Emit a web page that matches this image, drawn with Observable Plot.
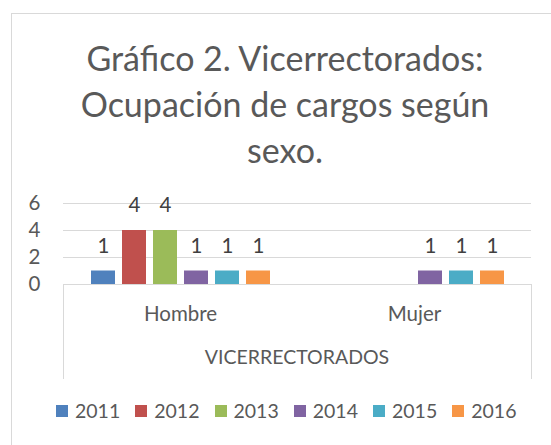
<!DOCTYPE html>
<html>
<head>
<meta charset="utf-8">
<script src="https://cdn.jsdelivr.net/npm/d3@7"></script>
<script src="https://cdn.jsdelivr.net/npm/@observablehq/plot@0.6"></script>
<style>
  html, body { margin: 0; padding: 0; background: #fff; }
  #wrap { position: relative; width: 551px; height: 445px; overflow: hidden; background: #fff; font-family: Lato, "Open Sans", sans-serif; }
  #frame { position: absolute; left: 11px; top: 13px; width: 700px; height: 600px; border: 1px solid #d9d9d9; }
  #title { position: absolute; left: 11px; width: 548px; top: 35px; text-align: center; font-size: 34px; line-height: 46px; color: #595959; }
  #chart { position: absolute; left: 0; top: 180px; }
  #table { position: absolute; left: 63px; top: 284px; width: 467px; height: 95px; border-left: 1px solid #d9d9d9; border-right: 1px solid #d9d9d9; }
  #group { position: absolute; left: 63px; width: 468px; top: 345px; text-align: center; font-size: 19.5px; color: #595959; }
  #legend { position: absolute; left: 56px; top: 399px; display: flex; gap: 15px; font-size: 19.5px; color: #595959; }
  .item { display: flex; align-items: center; gap: 7px; }
  .sw { width: 12px; height: 12px; display: inline-block; }
</style>
</head>
<body>
<div id="wrap">
  <div id="frame"></div>
  <div id="title">Gráfico 2. Vicerrectorados:<br>Ocupación de cargos según<br>sexo.</div>
  <div id="table"></div>
  <div id="chart"></div>
  <div id="group"></div>
  <div id="legend"></div>
</div>
<script>
const sexes = ["Hombre", "Mujer"];
const years = ["2011", "2012", "2013", "2014", "2015", "2016"];
const hombre = [1, 4, 4, 1, 1, 1];
const mujer = [null, null, null, 1, 1, 1];
const yTicks = [0, 2, 4, 6];
const groupLabel = "VICERRECTORADOS";
const colors = ["#4f81bd", "#c0504d", "#9bbb59", "#8064a2", "#4bacc6", "#f79646"];

const series = { Hombre: hombre, Mujer: mujer };
const data = sexes.flatMap(s => years.map((y, i) => ({ sex: s, year: y, value: series[s][i] })));
const labeled = data.filter(d => d.value != null);

const chart = Plot.plot({
  width: 551,
  height: 150,
  marginLeft: 63,
  marginRight: 20,
  marginTop: 23,
  marginBottom: 46,
  style: { fontFamily: "Lato, 'Open Sans', sans-serif", fontSize: "20.5px", color: "#595959", background: "transparent", overflow: "visible" },
  fx: { domain: sexes, padding: 0, label: null, axis: "bottom", tickSize: 0, tickPadding: 22 },
  x: { domain: years, paddingInner: 0.23, paddingOuter: 0.85, axis: null },
  y: { domain: [0, 6], ticks: yTicks, tickFormat: d => String(d), tickSize: 0, tickPadding: 23, label: null },
  color: { domain: years, range: colors },
  marks: [
    Plot.ruleY(yTicks.filter(t => t > 0), { stroke: "#d9d9d9", strokeWidth: 1 }),
    Plot.ruleY([0], { stroke: "#d9d9d9", strokeWidth: 1 }),
    Plot.barY(labeled, { fx: "sex", x: "year", y: "value", fill: "year" }),
    Plot.text(labeled, { fx: "sex", x: "year", y: "value", text: d => String(d.value), dy: -25, fill: "#404040", fontSize: 20.5 })
  ]
});
document.getElementById("chart").appendChild(chart);
document.getElementById("group").textContent = groupLabel;

const legend = document.getElementById("legend");
years.forEach((y, i) => {
  const it = document.createElement("span");
  it.className = "item";
  const sw = document.createElement("span");
  sw.className = "sw";
  sw.style.background = colors[i];
  const tx = document.createElement("span");
  tx.textContent = y;
  it.appendChild(sw);
  it.appendChild(tx);
  legend.appendChild(it);
});
</script>
</body>
</html>
